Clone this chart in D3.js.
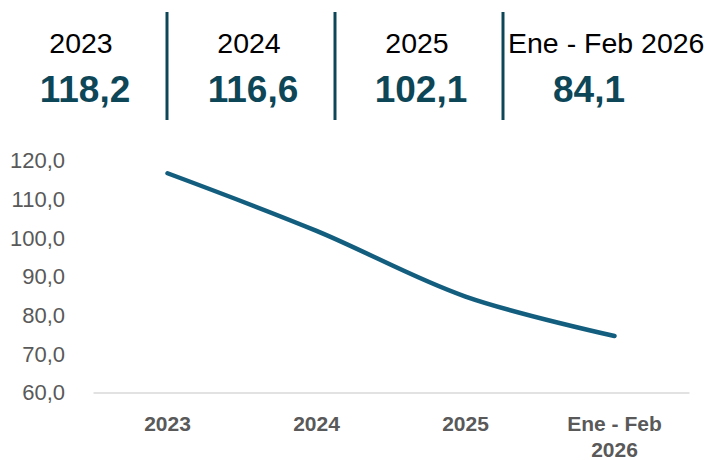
<!DOCTYPE html>
<html>
<head>
<meta charset="utf-8">
<script src="https://cdn.jsdelivr.net/npm/d3@7"></script>
<style>
  html, body { margin: 0; padding: 0; background: #fff; }
  svg { display: block; }
</style>
</head>
<body>
<svg id="chart" width="710" height="460"></svg>
<script>
// ---- data ----
const headerLabels = ["2023", "2024", "2025", "Ene - Feb 2026"];
const headerValues = [118.2, 116.6, 102.1, 84.1];
const categories = ["2023", "2024", "2025", "Ene - Feb 2026"];
const seriesValues = [116.7, 101.8, 84.8, 74.6];
const yTicks = [60, 70, 80, 90, 100, 110, 120];

const fmt1 = v => d3.format(".1f")(v).replace(".", ",");

const svg = d3.select("#chart");
const teal = "#0d4657";

// ---- header KPIs ----
const hx = d3.scaleBand().domain(headerLabels).range([-1, 671]);
const header = svg.append("g");
headerLabels.forEach((lab, i) => {
  const cx = hx(lab) + hx.bandwidth() / 2;
  if (i > 0) {
    header.append("line")
      .attr("x1", hx(lab)).attr("x2", hx(lab))
      .attr("y1", 12).attr("y2", 120)
      .attr("stroke", teal).attr("stroke-width", 3);
  }
  const t = header.append("text")
    .attr("x", cx - 2).attr("y", 53)
    .attr("text-anchor", "middle")
    .attr("font-family", "Liberation Sans, Arial, sans-serif")
    .attr("font-size", 28.5)
    .attr("fill", "#000")
    .text(lab);
  const w = t.node().getComputedTextLength();
  const minStart = hx(lab) + 5;
  if (cx - w / 2 < minStart) {
    t.attr("text-anchor", "start").attr("x", minStart);
  }
  header.append("text")
    .attr("x", cx + 2).attr("y", 102)
    .attr("text-anchor", "middle")
    .attr("font-family", "Liberation Sans, Arial, sans-serif")
    .attr("font-weight", "bold")
    .attr("font-size", 37)
    .attr("fill", teal)
    .text(fmt1(headerValues[i]));
});

// ---- line chart ----
const x = d3.scaleBand().domain(categories).range([93, 689]);
const y = d3.scaleLinear().domain([60, 120]).range([392.5, 160.5]);

// y tick labels
svg.append("g").selectAll("text").data(yTicks).join("text")
  .attr("x", 65).attr("y", d => y(d))
  .attr("dy", "0.36em")
  .attr("text-anchor", "end")
  .attr("font-family", "Liberation Sans, Arial, sans-serif")
  .attr("font-size", 22)
  .attr("fill", "#595959")
  .text(d => fmt1(d));

// baseline axis
const xAxis = d3.axisBottom(x).tickSize(0).tickFormat("");
const gx = svg.append("g").attr("transform", `translate(0,${y(60)})`).call(xAxis);
gx.select(".domain").attr("stroke", "#d9d9d9").attr("stroke-width", 1.5);

// x labels (wrapped)
categories.forEach(c => {
  const cx = x(c) + x.bandwidth() / 2;
  const lines = c.length > 8 ? [c.slice(0, c.lastIndexOf(" ")), c.slice(c.lastIndexOf(" ") + 1)] : [c];
  const t = svg.append("text")
    .attr("text-anchor", "middle")
    .attr("font-family", "Liberation Sans, Arial, sans-serif")
    .attr("font-weight", "bold")
    .attr("font-size", 21)
    .attr("fill", "#595959");
  lines.forEach((ln, j) => {
    t.append("tspan").attr("x", cx).attr("y", 431 + j * 26).text(ln);
  });
});

// series line
const line = d3.line()
  .x((d, i) => x(categories[i]) + x.bandwidth() / 2)
  .y(d => y(d))
  .curve(d3.curveCatmullRom.alpha(0.5));

svg.append("path")
  .datum(seriesValues)
  .attr("d", line)
  .attr("fill", "none")
  .attr("stroke", "#135e7e")
  .attr("stroke-width", 4.5)
  .attr("stroke-linecap", "round")
  .attr("stroke-linejoin", "round");
</script>
</body>
</html>
